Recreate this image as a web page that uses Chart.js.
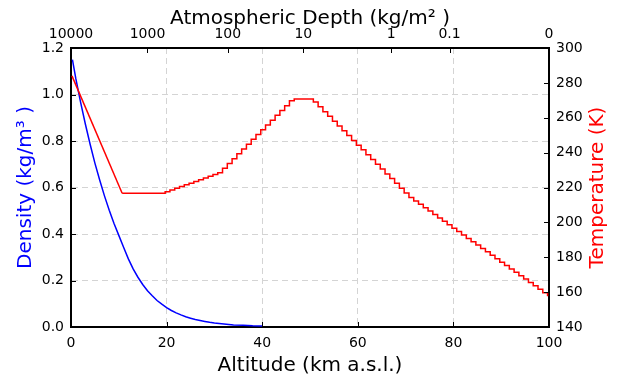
<!DOCTYPE html>
<html>
<head>
<meta charset="utf-8">
<script src="https://cdn.jsdelivr.net/npm/chart.js@4.4.0/dist/chart.umd.min.js"></script>
<style>
  html, body { margin: 0; padding: 0; background: #fff; }
</style>
</head>
<body>
<canvas id="chart" width="618" height="380"></canvas>
<script>
// Yoğunluk (kg/m3) - irtifa (km)
const densityAlt = [0.3, 1, 2, 3, 4, 5, 6, 7, 8, 9, 10, 11, 12, 13, 14, 15, 16, 17, 18, 19, 20,
  21, 22, 23, 24, 25, 26, 27, 28, 29, 30, 32, 34, 36, 38, 40];
const densityVal = [1.15, 1.069, 0.967, 0.873, 0.786, 0.705, 0.632, 0.564, 0.502, 0.445, 0.394,
  0.343, 0.293, 0.25, 0.214, 0.183, 0.156, 0.134, 0.114, 0.098, 0.083,
  0.071, 0.061, 0.052, 0.044, 0.038, 0.032, 0.028, 0.024, 0.02, 0.017, 0.013, 0.009, 0.007, 0.005, 0.004];

// Sıcaklık (K): troposfer düz çizgi
const tropoAlt = [0.2, 10.7];
const tropoTemp = [284, 216.7];

// Sıcaklık (K): üst katmanlar, basamaklı
const upperAlt = [10.7, 11.7, 12.7, 13.7, 14.7, 15.7, 16.7, 17.7, 18.7, 19.7,
  20.7, 21.7, 22.7, 23.7, 24.7, 25.7, 26.7, 27.7, 28.7, 29.7,
  30.7, 31.7, 32.7, 33.7, 34.7, 35.7, 36.7, 37.7, 38.7, 39.7,
  40.7, 41.7, 42.7, 43.7, 44.7, 45.7, 46.7, 47.7, 48.7, 49.7,
  50.7, 51.7, 52.7, 53.7, 54.7, 55.7, 56.7, 57.7, 58.7, 59.7,
  60.7, 61.7, 62.7, 63.7, 64.7, 65.7, 66.7, 67.7, 68.7, 69.7,
  70.7, 71.7, 72.7, 73.7, 74.7, 75.7, 76.7, 77.7, 78.7, 79.7,
  80.7, 81.7, 82.7, 83.7, 84.7, 85.7, 86.7, 87.7, 88.7, 89.7,
  90.7, 91.7, 92.7, 93.7, 94.7, 95.7, 96.7, 97.7, 98.7, 99.7];
const upperTemp = [216.7, 216.7, 216.7, 216.7, 216.7, 216.7, 216.7, 216.7, 216.7, 217.6,
  218.6, 219.6, 220.6, 221.6, 222.5, 223.5, 224.5, 225.5, 226.5, 227.5,
  228.5, 231.0, 233.8, 236.5, 239.3, 242.1, 244.8, 247.6, 250.4, 253.1,
  255.9, 258.6, 261.4, 264.2, 266.9, 269.7, 270.7, 270.7, 270.7, 270.7,
  269.0, 266.3, 263.5, 260.8, 258.0, 255.3, 252.5, 249.8, 247.0, 244.3,
  241.6, 238.8, 236.1, 233.3, 230.6, 227.8, 225.1, 222.4, 219.6, 216.9,
  214.3, 212.3, 210.4, 208.4, 206.5, 204.5, 202.5, 200.6, 198.6, 196.7,
  194.7, 192.8, 190.8, 188.9, 187.0, 185.0, 183.1, 181.1, 179.2, 177.2,
  175.3, 173.3, 171.4, 169.4, 167.5, 165.5, 163.6, 161.7, 159.7, 157.7];

// Eksen etiketleri
const altitudeTicks = [0, 20, 40, 60, 80, 100];
const densityTicks = [0, 0.2, 0.4, 0.6, 0.8, 1.0, 1.2];
const temperatureTicks = [140, 160, 180, 200, 220, 240, 260, 280, 300];
const depthTickAlt = [0, 16, 32.8, 48.6, 67, 79.2, 100];
const depthLabels = ["10000", "1000", "100", "10", "1", "0.1", "0"];

const toPoints = (xs, ys) => xs.map((x, i) => ({ x: x, y: ys[i] }));
const setTicks = (arr) => (scale) => { scale.ticks = arr.map((v) => ({ value: v })); };

Chart.defaults.font.family = '"DejaVu Sans", sans-serif';
Chart.defaults.color = "#000";

// İçe dönük tik çizgileri + sağ eksen başlığı
const insideTicks = {
  id: "insideTicks",
  afterDatasetsDraw(chart) {
    const { ctx, chartArea: a, scales } = chart;
    const len = 5;
    ctx.save();
    ctx.strokeStyle = "#000";
    ctx.lineWidth = 1;
    ctx.beginPath();
    scales.x.ticks.forEach((t) => {
      const px = Math.round(scales.x.getPixelForValue(t.value)) + 0.5;
      ctx.moveTo(px, a.bottom); ctx.lineTo(px, a.bottom - len);
    });
    scales.x2.ticks.forEach((t) => {
      const px = Math.round(scales.x2.getPixelForValue(t.value)) + 0.5;
      ctx.moveTo(px, a.top); ctx.lineTo(px, a.top + len);
    });
    scales.y.ticks.forEach((t) => {
      const py = Math.round(scales.y.getPixelForValue(t.value)) + 0.5;
      ctx.moveTo(a.left, py); ctx.lineTo(a.left + len, py);
    });
    scales.y2.ticks.forEach((t) => {
      const py = Math.round(scales.y2.getPixelForValue(t.value)) + 0.5;
      ctx.moveTo(a.right, py); ctx.lineTo(a.right - len, py);
    });
    ctx.stroke();

    ctx.translate(598, (a.top + a.bottom) / 2);
    ctx.rotate(-Math.PI / 2);
    ctx.fillStyle = "#ff0000";
    ctx.font = '20px "DejaVu Sans"';
    ctx.textAlign = "center";
    ctx.textBaseline = "middle";
    ctx.fillText("Temperature (K)", 0, 0);
    ctx.restore();
  },
};

const gridOpts = { color: "#d4d4d4", lineWidth: 1, drawTicks: false };
const borderOpts = { display: true, color: "#000", width: 2, dash: [6, 4] };

new Chart(document.getElementById("chart"), {
  type: "line",
  data: {
    datasets: [
      {
        label: "Temperature (troposphere)",
        data: toPoints(tropoAlt, tropoTemp),
        yAxisID: "y2",
        borderColor: "#ff0000",
        borderWidth: 1.5,
        pointRadius: 0,
      },
      {
        label: "Temperature",
        data: toPoints(upperAlt, upperTemp),
        yAxisID: "y2",
        borderColor: "#ff0000",
        borderWidth: 1.5,
        pointRadius: 0,
        stepped: "before",
      },
      {
        label: "Density",
        data: toPoints(densityAlt, densityVal),
        yAxisID: "y",
        borderColor: "#0000ff",
        borderWidth: 1.5,
        pointRadius: 0,
      },
    ],
  },
  options: {
    responsive: false,
    animation: false,
    devicePixelRatio: 1,
    plugins: { legend: { display: false }, tooltip: { enabled: false } },
    scales: {
      x: {
        type: "linear",
        position: "bottom",
        min: 0,
        max: 100,
        afterBuildTicks: setTicks(altitudeTicks),
        afterFit: (s) => { s.height = 53; },
        grid: gridOpts,
        border: borderOpts,
        ticks: { font: { size: 14 }, padding: 8, maxRotation: 0, autoSkip: false },
        title: {
          display: true,
          text: "Altitude (km a.s.l.)",
          font: { size: 20 },
          padding: { top: 0, bottom: 2 },
        },
      },
      x2: {
        type: "linear",
        axis: "x",
        position: "top",
        min: 0,
        max: 100,
        afterBuildTicks: setTicks(depthTickAlt),
        afterFit: (s) => { s.height = 48; },
        grid: { display: false, drawTicks: false },
        border: { display: true, color: "#000", width: 2 },
        ticks: {
          font: { size: 14 },
          padding: 5,
          maxRotation: 0,
          autoSkip: false,
          callback: (v, i) => depthLabels[i],
        },
        title: {
          display: true,
          text: "Atmospheric Depth (kg/m² )",
          font: { size: 20 },
          padding: { top: 7, bottom: 0 },
        },
      },
      y: {
        type: "linear",
        position: "left",
        min: 0,
        max: 1.2,
        afterBuildTicks: setTicks(densityTicks),
        afterFit: (s) => { s.width = 71; },
        grid: gridOpts,
        border: borderOpts,
        ticks: { font: { size: 14 }, padding: 7, callback: (v) => v.toFixed(1) },
        title: {
          display: true,
          text: "Density (kg/m³ )",
          color: "#0000ff",
          font: { size: 20 },
          padding: { top: 14, bottom: 0 },
        },
      },
      y2: {
        type: "linear",
        position: "right",
        min: 140,
        max: 300,
        afterBuildTicks: setTicks(temperatureTicks),
        afterFit: (s) => { s.width = 69; },
        grid: { display: false, drawTicks: false },
        border: { display: true, color: "#000", width: 2 },
        ticks: { font: { size: 14 }, padding: 7 },
      },
    },
  },
  plugins: [insideTicks],
});
</script>
</body>
</html>
